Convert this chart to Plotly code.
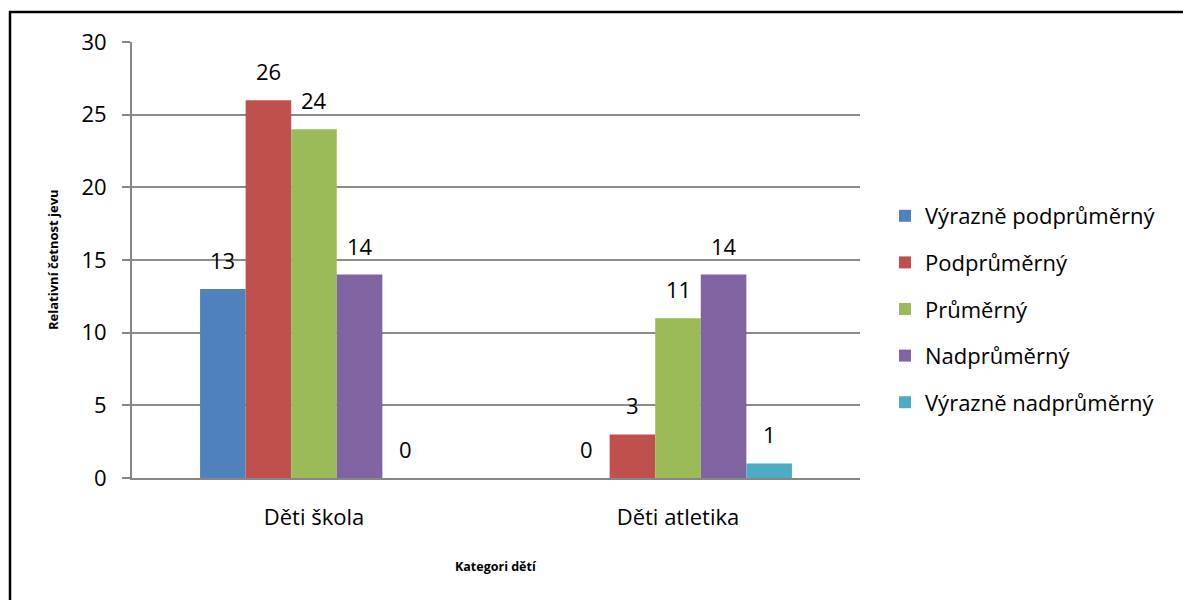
import plotly.graph_objects as go

# Data
categories = ["Děti škola", "Děti atletika"]
series_names = ["Výrazně podprůměrný", "Podprůměrný", "Průměrný", "Nadprůměrný", "Výrazně nadprůměrný"]
vyrazne_podprumerny = [13, 0]
podprumerny = [26, 3]
prumerny = [24, 11]
nadprumerny = [14, 14]
vyrazne_nadprumerny = [0, 1]
series_values = [vyrazne_podprumerny, podprumerny, prumerny, nadprumerny, vyrazne_nadprumerny]
colors = ["#4F81BD", "#C0504D", "#9BBB59", "#8064A2", "#4BACC6"]
y_ticks = [0, 5, 10, 15, 20, 25, 30]

FONT = "Open Sans"
FS = 22
W, H = 1183, 600
ML, MR, MT, MB = 132, 323, 42, 122
BARGAP = 0.374

fig = go.Figure()
for name, vals, col in zip(series_names, series_values, colors):
    fig.add_trace(go.Bar(
        x=categories, y=vals, name=name, marker=dict(color=col, line=dict(width=0)),
        legendgroup=name,
    ))

# Value labels above each bar
plot_w = W - ML - MR
plot_h = H - MT - MB
cat_w = plot_w / len(categories)
bar_w = cat_w * (1 - BARGAP) / len(series_names)
annotations = []
for i, vals in enumerate(series_values):
    for cat, v in zip(categories, vals):
        annotations.append(dict(
            x=cat, y=v, xref="x", yref="y", text=str(v), showarrow=False,
            xshift=(i - (len(series_names) - 1) / 2) * bar_w, yshift=12,
            yanchor="bottom", font=dict(family=FONT, size=FS, color="#000000"),
        ))

# Axis titles
annotations.append(dict(
    x=(53 - ML) / plot_w, y=((H - MB) - 260) / plot_h, xref="paper", yref="paper",
    xanchor="center", yanchor="middle",
    text="<b>Relativní četnost jevu</b>",
    textangle=-90, showarrow=False, font=dict(family=FONT, size=13, color="#000000"),
))
annotations.append(dict(
    x=(496 - ML) / plot_w, y=-(566 - (H - MB)) / plot_h, xref="paper", yref="paper",
    xanchor="center", yanchor="middle",
    text="<b>Kategori dětí</b>", showarrow=False, font=dict(family=FONT, size=12.5, color="#000000"),
))

# Outer chart frame
fig.add_shape(type="rect", xref="paper", yref="paper",
              x0=(10 - ML) / plot_w, x1=(1200 - ML) / plot_w,
              y0=-(620 - (H - MB)) / plot_h, y1=((H - MB) - 12) / plot_h,
              line=dict(color="#000000", width=2.5), fillcolor="rgba(0,0,0,0)", layer="above")

fig.update_layout(
    width=W, height=H,
    margin=dict(l=ML, r=MR, t=MT, b=MB, pad=0),
    paper_bgcolor="white", plot_bgcolor="white",
    barmode="group", bargap=BARGAP, bargroupgap=0,
    font=dict(family=FONT, color="#000000"),
    annotations=annotations,
    legend=dict(
        x=(885 - ML) / plot_w, xanchor="left", y=((H - MB) - 309) / plot_h, yanchor="middle",
        font=dict(family=FONT, size=FS, color="#000000"), tracegroupgap=15,
        bgcolor="rgba(0,0,0,0)", itemwidth=30,
    ),
    showlegend=True,
)
fig.update_xaxes(
    showline=True, linecolor="#868686", linewidth=2, ticks="", showgrid=False,
    tickfont=dict(family=FONT, size=FS, color="#000000"), ticklabelstandoff=19,
)
fig.update_yaxes(
    range=[0, 30], tickvals=y_ticks, showline=True, linecolor="#868686", linewidth=2,
    showgrid=True, gridcolor="#8C8C8C", gridwidth=1.5, zeroline=False,
    ticks="outside", ticklen=8, tickcolor="#868686", tickwidth=2,
    tickfont=dict(family=FONT, size=FS, color="#000000"), ticklabelstandoff=11,
)

fig.write_html("out.html")
